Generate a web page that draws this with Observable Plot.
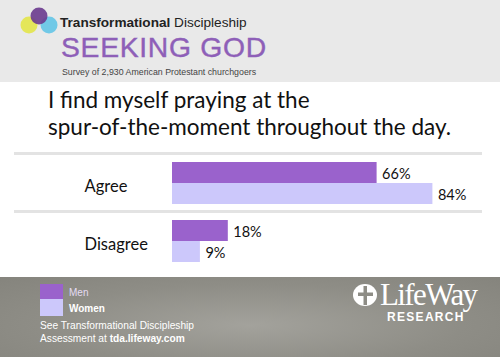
<!DOCTYPE html>
<html>
<head>
<meta charset="utf-8">
<script src="https://cdn.jsdelivr.net/npm/d3@7"></script>
<script src="https://cdn.jsdelivr.net/npm/@observablehq/plot@0.6"></script>
<style>
  html, body { margin: 0; padding: 0; background: #fff; width: 500px; height: 357px; overflow: hidden; }
  #header { position: relative; height: 82px; background: #e9e9e9; font-family: "Liberation Sans", Arial, sans-serif; }
  #header .t1 { position: absolute; left: 60px; top: 15px; font-size: 13.6px; color: #222; }
  #header .t2 { position: absolute; left: 61px; top: 31px; font-size: 28.3px; color: #8e5fb8; letter-spacing: 0.7px; -webkit-text-stroke: 0.4px #8e5fb8; }
  #header .t3 { position: absolute; left: 62px; top: 67px; font-size: 8.8px; color: #444; }
  #title { height: 68px; position: relative; font-family: Lato, "Open Sans", sans-serif; }
  #title div { position: absolute; left: 48px; top: 4px; font-size: 22.5px; line-height: 27px; color: #111; }
  #chart { height: 127px; }
  #footer { position: relative; height: 80px; background: radial-gradient(ellipse at 50% 60%, #a3a29c 0%, #8e8d86 60%, #85847d 100%); font-family: "Liberation Sans", Arial, sans-serif; }
  .sw { position: absolute; left: 40px; width: 23px; }
  .lg { position: absolute; left: 69px; font-size: 10px; }
  .note { position: absolute; left: 40px; font-size: 10.2px; color: #fff; }
</style>
</head>
<body>
<div id="header">
  <svg width="60" height="45" style="position:absolute;left:0;top:0">
    <circle cx="29" cy="25" r="8.5" fill="#e3e64a" opacity="0.9"/>
    <circle cx="49" cy="25" r="8.5" fill="#5cc3e6" opacity="0.85"/>
    <circle cx="39" cy="16" r="8.5" fill="#6a3a8e" opacity="0.9"/>
  </svg>
  <div class="t1"><b>Transformational</b> Discipleship</div>
  <div class="t2">SEEKING GOD</div>
  <div class="t3">Survey of 2,930 American Protestant churchgoers</div>
</div>
<div id="title"><div>I find myself praying at the<br>spur-of-the-moment throughout the day.</div></div>
<div id="chart"></div>
<div id="footer">
  <div class="sw" style="top:7px;height:15px;background:#9a62cc"></div>
  <div class="sw" style="top:22px;height:17px;background:#ccc8fb"></div>
  <div class="lg" style="top:10px;color:#e4dcf4">Men</div>
  <div class="lg" style="top:26px;color:#fff;font-weight:bold">Women</div>
  <div class="note" style="top:43px">See Transformational Discipleship</div>
  <div class="note" style="top:56px">Assessment at <b>tda.lifeway.com</b></div>
  <svg width="140" height="52" style="position:absolute;left:350px;top:0px">
    <ellipse cx="15" cy="18" rx="12" ry="11" fill="#fff"/>
    <path d="M13.5 9 L17 9 L17 15.5 L23 15.5 L23 19 L17 19 L17 28 L13.5 28 L13.5 19 L8 19 L8 15.5 L13.5 15.5 Z" fill="#8e8d86"/>
    <text x="30" y="28" fill="#fff" font-family="Liberation Serif, serif" font-size="31" letter-spacing="-1.6">LifeWay</text>
    <text x="37" y="44" fill="#fff" font-family="Liberation Sans, Arial, sans-serif" font-weight="bold" font-size="12" letter-spacing="1.3">RESEARCH</text>
  </svg>
</div>
<script>
const categories = ["Agree", "Disagree"];
const groups = ["Men", "Women"];
const men = [66, 18];
const women = [84, 9];
const colors = ["#9a62cc", "#ccc8fb"];

const data = [];
categories.forEach((c, i) => {
  data.push({category: c, group: "Men", value: men[i]});
  data.push({category: c, group: "Women", value: women[i]});
});

const plot = Plot.plot({
  width: 500,
  height: 127,
  marginLeft: 172,
  marginRight: 18,
  marginTop: 12,
  marginBottom: 15,
  style: {background: "transparent", overflow: "visible"},
  x: {domain: [0, 100], axis: null},
  y: {domain: groups, padding: 0, axis: null},
  fy: {domain: categories, paddingInner: 0.276, paddingOuter: 0, axis: null},
  color: {domain: groups, range: colors},
  marks: [
    Plot.frame({anchor: "top", stroke: "#e3e3e3", strokeWidth: 3, dy: -9, insetLeft: -157, insetRight: 2}),
    Plot.barX(data, {x: "value", y: "group", fy: "category", fill: "group"}),
    Plot.text(data, {x: "value", y: "group", fy: "category", text: d => d.value + "%", textAnchor: "start", dx: 5, dy: 1, fontSize: 14.5, fill: "#111", fontFamily: "Lato, 'Open Sans', sans-serif"}),
    Plot.text(categories, {fy: d => d, text: d => d, frameAnchor: "left", textAnchor: "start", dx: -88, dy: 3, fontSize: 16.5, fill: "#111", fontFamily: "Lato, 'Open Sans', sans-serif"})
  ]
});
document.getElementById("chart").appendChild(plot);
</script>
</body>
</html>
